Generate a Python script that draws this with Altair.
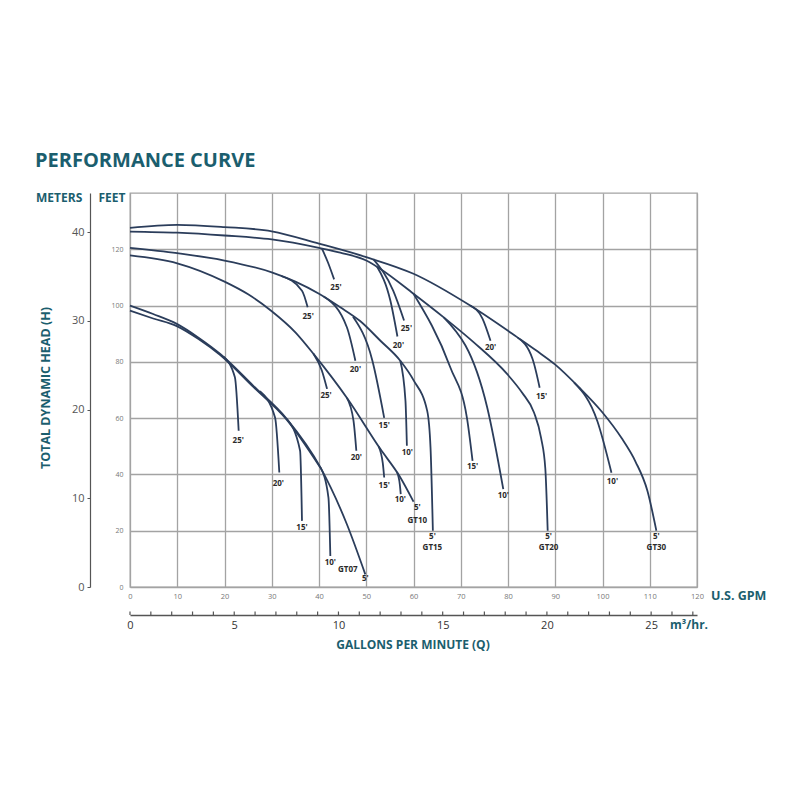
import altair as alt
import pandas as pd

TEAL = "#1b5e6e"
INK = "#2b3d5b"
GRID = "#a3a3a3"
FONT = "Open Sans"

# (U.S. GPM, feet of head)
gt30_main = [(0, 127.6), (10, 128.7), (20, 127.9), (30, 126.4), (40, 122.0), (50, 117.2),
             (60, 111.3), (72, 100.0), (82, 88.7), (86, 84.0), (90, 79.0), (95, 71.0),
             (100, 62.0), (104, 53.0), (107, 44.5), (109.5, 34.2), (111.4, 20.0)]
gt30_25 = [(51.5, 116.5), (55.7, 105.3), (58.0, 94.7)]
gt30_20 = [(72.0, 100.0), (74.6, 95.4), (76.3, 87.5)]
gt30_15 = [(82.0, 88.7), (85.2, 81.0), (86.7, 70.8)]
gt30_10 = [(94.0, 72.6), (98.9, 59.0), (101.9, 40.6)]

gt20_main = [(0, 126.3), (10, 125.9), (20, 124.9), (30, 123.5), (40, 120.5), (44.5, 118.8),
             (50, 116.0), (53, 113.0), (60, 104.2), (66.4, 95.8), (72.7, 87.0), (79.8, 75.7),
             (83, 69.0), (85.5, 62.0), (87, 53.0), (87.9, 42.0), (88.4, 20.0)]
gt20_25 = [(40.6, 120.3), (41.9, 115.3), (43.2, 109.3)]
gt20_20 = [(52.3, 113.8), (55.1, 101.8), (56.6, 89.0)]
gt20_15 = [(60.0, 104.2), (67.8, 78.0), (71.3, 60.2), (72.5, 44.8)]
gt20_10 = [(66.4, 95.8), (75.6, 63.8), (79.0, 34.8)]

gt15_main = [(0, 120.5), (10, 118.6), (20, 116.0), (30, 111.8), (35, 108.5), (40, 104.2),
             (44.5, 99.4), (48.7, 94.5), (53, 87.5), (57.2, 80.4), (60, 73.5), (62.9, 62.6),
             (63.6, 49.6), (64.1, 20.0)]
gt15_25 = [(32.0, 110.5), (36.4, 105.3), (37.6, 99.4)]
gt15_20 = [(41.0, 103.2), (45.9, 92.3), (47.7, 80.4)]
gt15_15 = [(47.2, 96.0), (51.3, 80.4), (53.8, 60.1)]
gt15_10 = [(57.2, 80.4), (58.3, 66.2), (58.6, 50.2)]

gt10_main = [(0, 117.8), (10, 115.0), (20, 108.5), (25, 104.0), (30, 98.0), (35, 90.5),
             (39, 82.5), (46, 67.0), (53, 49.0), (57, 39.5), (60, 30.3)]
gt10_25 = [(38.8, 83.0), (40.6, 76.9), (41.7, 70.4)]
gt10_20 = [(45.9, 67.2), (47.3, 59.1), (47.9, 48.4)]
gt10_15 = [(52.6, 50.0), (53.5, 44.0), (53.8, 38.9)]
gt10_10 = [(56.5, 40.8), (57.1, 36.5), (57.3, 33.0)]

gt07_main = [(0, 100.0), (4.9, 97.0), (9.9, 93.5), (14.5, 88.6), (19.1, 82.8), (26.1, 71.5),
             (33.2, 59.7), (40.3, 42.5), (45.9, 22.3), (49.8, 4.5)]
gt07_alt = [(0, 98.2), (4.9, 95.4), (9.9, 92.7), (14.5, 88.1), (19.1, 82.4), (26.1, 71.1),
            (33.2, 59.4), (40.3, 42.4)]
gt07_25 = [(19.8, 81.8), (22.2, 74.5), (23.0, 55.5)]
gt07_20 = [(27.5, 69.6), (30.7, 60.2), (31.6, 40.7)]
gt07_15 = [(33.2, 59.7), (36.0, 48.4), (36.4, 23.5)]
gt07_10 = [(40.3, 42.5), (42.0, 31.8), (42.4, 11.0)]

curves = {
    "gt30_main": gt30_main, "gt30_25": gt30_25, "gt30_20": gt30_20, "gt30_15": gt30_15, "gt30_10": gt30_10,
    "gt20_main": gt20_main, "gt20_25": gt20_25, "gt20_20": gt20_20, "gt20_15": gt20_15, "gt20_10": gt20_10,
    "gt15_main": gt15_main, "gt15_25": gt15_25, "gt15_20": gt15_20, "gt15_15": gt15_15, "gt15_10": gt15_10,
    "gt10_main": gt10_main, "gt10_25": gt10_25, "gt10_20": gt10_20, "gt10_15": gt10_15, "gt10_10": gt10_10,
    "gt07_main": gt07_main, "gt07_alt": gt07_alt, "gt07_25": gt07_25, "gt07_20": gt07_20,
    "gt07_15": gt07_15, "gt07_10": gt07_10,
}

# suction-lift / model tags at the curve ends
label_text = ["25'", "20'", "15'", "10'", "5'", "GT07",
              "25'", "20'", "15'", "10'", "5'", "GT10",
              "25'", "20'", "15'", "10'", "5'", "GT15",
              "25'", "20'", "15'", "10'", "5'", "GT20",
              "25'", "20'", "15'", "10'", "5'", "GT30"]
label_q = [22.9, 31.4, 36.4, 42.4, 49.8, 46.1,
           41.5, 47.9, 53.8, 57.2, 60.8, 60.8,
           37.7, 47.7, 53.8, 58.7, 64.0, 64.0,
           43.6, 56.8, 72.5, 79.0, 88.6, 88.6,
           58.5, 76.3, 87.1, 102.1, 111.4, 111.4]
label_h = [52.0, 36.7, 21.0, 8.5, 2.8, 6.0,
           68.0, 45.9, 35.9, 31.0, 28.2, 23.6,
           96.1, 77.2, 57.3, 47.7, 17.6, 13.8,
           106.4, 85.8, 42.7, 32.4, 17.6, 13.8,
           91.8, 85.1, 67.6, 37.4, 17.6, 13.8]

gpm_ticks = list(range(0, 121, 10))
feet_ticks = list(range(0, 121, 20))
meter_ticks = [0, 10, 20, 30, 40]
m3_labels = [0, 5, 10, 15, 20, 25]
m3_minor = list(range(0, 28))

W, H = 567, 394

rows = []
for name, pts in curves.items():
    for i, (q, h) in enumerate(pts):
        rows.append({"curve": name, "i": i, "q": q, "h": h})
curve_df = pd.DataFrame(rows)
label_df = pd.DataFrame({"t": label_text, "q": label_q, "h": label_h})

x_gpm = alt.Scale(domain=[0, 120], nice=False, zero=False)
y_ft = alt.Scale(domain=[0, 140], nice=False, zero=False)

lines = (
    alt.Chart(curve_df)
    .mark_line(interpolate="monotone", color=INK, strokeWidth=1.8)
    .encode(
        x=alt.X(
            "q:Q",
            scale=x_gpm,
            axis=alt.Axis(
                values=gpm_ticks, grid=True, gridColor=GRID, gridWidth=1.3,
                domain=False, ticks=False, labelFontSize=7.5, labelColor="#777",
                labelFont=FONT, labelPadding=5, labelFlush=False, labelOverlap=False,
                title=None,
            ),
        ),
        y=alt.Y(
            "h:Q",
            scale=y_ft,
            axis=alt.Axis(
                values=feet_ticks, grid=True, gridColor=GRID, gridWidth=1.3,
                domain=False, ticks=False, labelFontSize=7, labelColor="#777",
                labelFont=FONT, labelPadding=7, labelFlush=False, labelOverlap=False,
                title=None,
            ),
        ),
        detail="curve:N",
        order="i:Q",
    )
)

tags = (
    alt.Chart(label_df)
    .mark_text(fontSize=8, fontWeight="bold", color="#2a2a2a", font=FONT)
    .encode(
        x=alt.X("q:Q", scale=x_gpm, axis=None),
        y=alt.Y("h:Q", scale=y_ft, axis=None),
        text="t:N",
    )
)

meters = (
    alt.Chart(pd.DataFrame({"m": meter_ticks}))
    .mark_point(opacity=0)
    .encode(
        y=alt.Y(
            "m:Q",
            scale=alt.Scale(domain=[0, 44.4], nice=False, zero=False),
            axis=alt.Axis(
                orient="left", offset=40, values=meter_ticks, grid=False,
                domainColor="#555", domainWidth=1.2, tickColor="#555", tickSize=3,
                labelFontSize=11, labelColor="#555", labelFont=FONT, labelPadding=3,
                labelFlush=False, title=None,
            ),
        )
    )
)

m3 = (
    alt.Chart(pd.DataFrame({"v": m3_minor}))
    .mark_rule(color="#555", strokeWidth=1.2)
    .encode(
        x=alt.X(
            "v:Q",
            scale=alt.Scale(domain=[0, 27.2], nice=False, zero=False),
            axis=alt.Axis(
                orient="bottom", offset=28, values=m3_labels, grid=False,
                domainColor="#555", domainWidth=1.3, ticks=False, tickSize=0,
                labelFontSize=11, labelColor="#333", labelFont=FONT, labelPadding=4,
                labelFlush=False, title=None,
            ),
        ),
        y=alt.value(H + 28 - 3.5),
        y2=alt.value(H + 28),
    )
)


def note(text, x, y, size, align="left", angle=0):
    return (
        alt.Chart(pd.DataFrame({"t": [text]}))
        .mark_text(
            align=align, baseline="middle", angle=angle, fontSize=size,
            fontWeight="bold", color=TEAL, font=FONT,
        )
        .encode(x=alt.value(x), y=alt.value(y), text="t:N")
    )


notes = [
    note("PERFORMANCE CURVE", -95, -32, 20),
    note("METERS", -94, 4.5, 12),
    note("FEET", -31.5, 4.5, 12),
    note("TOTAL DYNAMIC HEAD (H)", -84, 195, 12.5, align="center", angle=270),
    note("U.S. GPM", 581, 402.5, 12.5),
    note("m³/hr.", 540, 431.5, 12),
    note("GALLONS PER MINUTE (Q)", 283, 451.5, 12, align="center"),
]

chart = (
    alt.layer(lines, tags, meters, m3, *notes)
    .resolve_scale(x="independent", y="independent")
    .properties(
        width=W,
        height=H,
        autosize=alt.AutoSizeParams(type="none"),
        padding={"left": 122, "top": 185, "right": 95, "bottom": 205},
        background="white",
    )
    .configure_view(stroke=GRID, strokeWidth=1.3)
)

chart.save("out.html", embed_options={"renderer": "svg", "actions": False})
